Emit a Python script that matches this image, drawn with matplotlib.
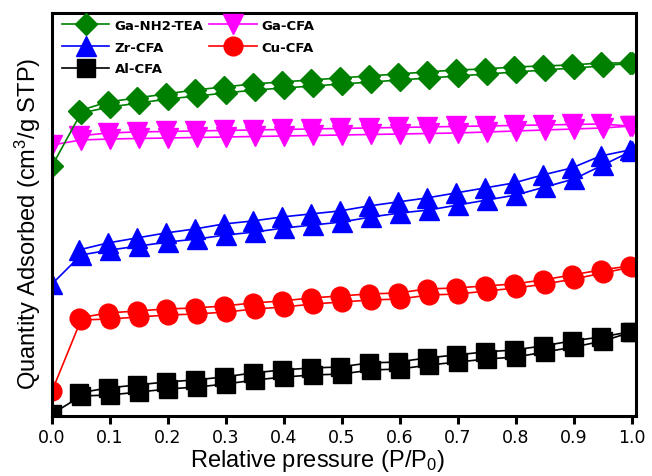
import matplotlib
matplotlib.use("Agg")
import matplotlib.pyplot as plt
import numpy as np

plt.rcParams['font.family'] = ['Liberation Sans', 'DejaVu Sans']
plt.rcParams['mathtext.fontset'] = 'custom'
plt.rcParams['mathtext.rm'] = 'Liberation Sans'
plt.rcParams['mathtext.it'] = 'Liberation Sans:italic'

# Relative pressure grid
p_ads = [0.0, 0.05, 0.10, 0.15, 0.20, 0.25, 0.30, 0.35, 0.40, 0.45, 0.50,
         0.55, 0.60, 0.65, 0.70, 0.75, 0.80, 0.85, 0.90, 0.95, 1.00]
p_des = [0.05, 0.10, 0.15, 0.20, 0.25, 0.30, 0.35, 0.40, 0.45, 0.50,
         0.55, 0.60, 0.65, 0.70, 0.75, 0.80, 0.85, 0.90, 0.95, 1.00]

# Quantity adsorbed (arbitrary units)
ga_nh2_ads = [250, 303, 309, 313, 317, 320, 323, 326, 328, 330, 332,
              334, 336, 338, 340, 342, 344, 346, 348, 350, 353]
ga_nh2_des = [305, 314, 318, 322, 326, 329, 332, 334, 336, 338,
              340, 342, 344, 346, 347, 349, 350, 351, 353, 353]

ga_cfa_ads = [271, 276, 277, 277.5, 278, 278.5, 279, 279.5, 280, 280.5, 281,
              281.5, 282, 282.5, 283, 284, 285, 286, 287, 288, 290]
ga_cfa_des = [280, 283, 284, 284.5, 285, 285.5, 286, 286.5, 287, 287.5,
              288, 288.5, 289, 289.5, 290, 290.5, 291, 291.5, 292, 290]

zr_ads = [132, 161, 166, 170, 174, 177, 181, 184, 188, 191, 194,
          199, 203, 206, 211, 216, 221, 229, 237, 251, 265]
zr_des = [166, 173, 178, 183, 187, 192, 195, 199, 202, 205,
          210, 214, 218, 223, 228, 233, 241, 248, 260, 266]

cu_ads = [25, 96, 97, 99, 101, 102, 104, 107, 109, 112, 114,
          116, 117, 121, 122, 125, 128, 132, 137, 143, 149]
cu_des = [98, 103, 105, 107, 108, 110, 113, 115, 118, 120,
          122, 123, 127, 128, 130, 132, 136, 141, 146, 150]

al_ads = [2, 20, 21, 24, 27, 29, 32, 36, 39, 41, 42,
          46, 47, 51, 54, 57, 59, 64, 69, 75, 84]
al_des = [23, 28, 31, 34, 36, 39, 43, 46, 48, 49,
          53, 54, 58, 61, 64, 66, 70, 75, 79, 84]

x_ticks = [0.0, 0.1, 0.2, 0.3, 0.4, 0.5, 0.6, 0.7, 0.8, 0.9, 1.0]
x_ticklabels = ['0.0', '0.1', '0.2', '0.3', '0.4', '0.5', '0.6', '0.7', '0.8', '0.9', '1.0']

series = [
    ('Al-CFA', al_ads, al_des, 'black', 's', 12.5),
    ('Cu-CFA', cu_ads, cu_des, '#ff0000', 'o', 13.5),
    ('Zr-CFA', zr_ads, zr_des, '#0000ff', '^', 14.0),
    ('Ga-CFA', ga_cfa_ads, ga_cfa_des, '#ff00ff', 'v', 15.0),
    ('Ga-NH2-TEA', ga_nh2_ads, ga_nh2_des, '#008000', 'D', 11.0),
]

fig = plt.figure(figsize=(6.52, 4.77), dpi=100)
ax = fig.add_axes([0.0798, 0.1258, 0.8957, 0.8449])

handles = {}
for name, ads, des, col, mk, ms in series:
    h, = ax.plot(p_ads, ads, color=col, marker=mk, ms=ms, mec=col, mfc=col,
                 lw=1.2, label=name)
    ax.plot(np.array(p_des) - 0.004, des, color=col, marker=mk, ms=ms,
            mec=col, mfc=col, lw=1.2)
    handles[name] = h

ax.set_xlim(0, 1.007)
ax.set_ylim(0, 403)
ax.set_xticks(x_ticks)
ax.set_xticklabels(x_ticklabels, family='DejaVu Sans', fontsize=12.5)
ax.set_yticks([])
for s in ax.spines.values():
    s.set_linewidth(2.2)
ax.tick_params(axis='x', direction='out', length=6, width=2.2, pad=3)

ax.set_xlabel(r'Relative pressure (P/P$_{\mathrm{0}}$)', fontsize=17)
ax.xaxis.set_label_coords(0.455, -0.076)
ax.set_ylabel(r'Quantity Adsorbed (cm$^{\mathrm{3}}$/g STP)', fontsize=17)
ax.yaxis.set_label_coords(-0.016, 0.479)

order = ['Ga-NH2-TEA', 'Zr-CFA', 'Al-CFA', 'Ga-CFA', 'Cu-CFA']
leg = ax.legend([handles[n] for n in order], order, loc='upper left',
                bbox_to_anchor=(0.017, 0.985), ncol=2, frameon=False,
                borderpad=0, borderaxespad=0, numpoints=1,
                handlelength=3.6, handletextpad=0.4, columnspacing=0.4,
                labelspacing=0.65,
                prop={'family': 'DejaVu Sans', 'weight': 'bold', 'size': 9.5})

fig.savefig('out.png', dpi=100)
